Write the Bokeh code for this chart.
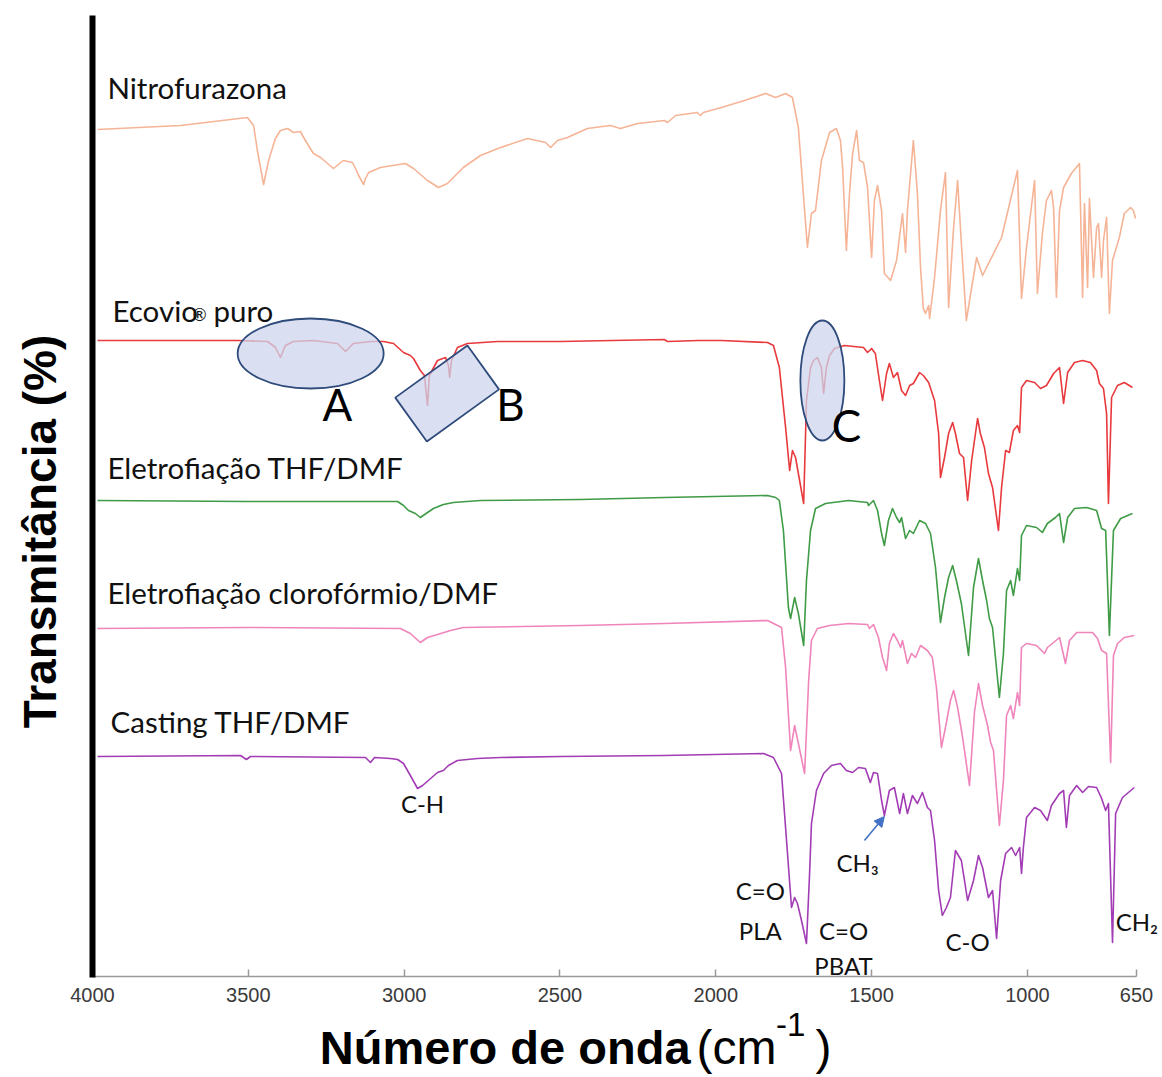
import math
from bokeh.plotting import figure
from bokeh.models import Range1d, FixedTicker, Label, Arrow, NormalHead
from bokeh.embed import file_html
from bokeh.resources import INLINE

# ---------------- data (wavenumber cm-1, transmittance a.u., spectra stacked) -------------
wn_nitro = [3984, 3718, 3503, 3483, 3471, 3451, 3435, 3413, 3397, 3374, 3355, 3333, 3317, 3291, 3268,
            3227, 3195, 3166, 3153, 3146, 3130, 3124, 3114, 3076, 3037, 2996, 2970, 2925, 2890, 2861,
            2810, 2755, 2691, 2604, 2546, 2530, 2508, 2476, 2412, 2338, 2306, 2251, 2165, 2155, 2129,
            2060, 2049, 2040, 1982, 1908, 1840, 1808, 1776, 1754, 1735, 1715, 1706, 1693, 1680, 1661,
            1635, 1613, 1600, 1593, 1581, 1571, 1561, 1548, 1539, 1526, 1513, 1500, 1491, 1481, 1468,
            1459, 1439, 1420, 1401, 1391, 1385, 1366, 1353, 1343, 1334, 1327, 1317, 1314, 1298, 1279,
            1263, 1253, 1237, 1224, 1212, 1196, 1179, 1163, 1144, 1083, 1032, 1019, 1003, 977, 968,
            952, 939, 923, 916, 907, 897, 884, 859, 833, 823, 817, 807, 801, 788, 778,
            772, 762, 756, 746, 737, 727, 705, 689, 669, 660, 653]
t_nitro = [871, 875, 883, 875, 850, 816, 840, 862, 870, 872, 868, 869, 860, 847, 843,
           832, 840, 838, 830, 825, 816, 822, 828, 833, 835, 837, 832, 820, 813, 817,
           833, 845, 853, 862, 858, 853, 860, 863, 872, 875, 872, 877, 880, 878, 885,
           888, 885, 888, 893, 900, 907, 903, 907, 903, 873, 790, 753, 787, 790, 840,
           868, 872, 860, 833, 750, 807, 847, 870, 840, 838, 813, 743, 800, 815, 790,
           727, 720, 740, 787, 748, 790, 860, 807, 733, 692, 687, 695, 682, 723, 790,
           828, 693, 773, 820, 757, 680, 713, 743, 725, 763, 830, 702, 753, 820, 707,
           767, 800, 810, 793, 703, 790, 813, 827, 837, 703, 797, 713, 802, 723, 773,
           777, 723, 760, 783, 687, 740, 763, 787, 793, 790, 782]

wn_ecovio = [3984, 3535, 3438, 3413, 3397, 3381, 3355, 3291, 3214, 3188, 3163, 3108, 3066, 3034, 3002,
             2980, 2970, 2948, 2935, 2925, 2919, 2893, 2867, 2858, 2854, 2848, 2829, 2797, 2700, 2498,
             2165, 2155, 2055, 1982, 1834, 1815, 1796, 1776, 1763, 1754, 1744, 1735, 1718, 1709, 1696,
             1686, 1674, 1661, 1654, 1645, 1635, 1619, 1587, 1526, 1513, 1500, 1488, 1475, 1465, 1452,
             1443, 1430, 1417, 1404, 1391, 1378, 1366, 1346, 1334, 1317, 1298, 1285, 1279, 1266, 1253,
             1240, 1231, 1218, 1205, 1192, 1179, 1160, 1151, 1138, 1125, 1112, 1093, 1083, 1070, 1058,
             1045, 1032, 1025, 1019, 1003, 977, 958, 939, 916, 897, 884, 871, 849, 823, 798,
             778, 769, 756, 746, 740, 730, 711, 689, 663]
t_ecovio = [660, 660, 659, 653, 643, 655, 659, 660, 657, 649, 657, 659, 659, 657, 648,
            645, 642, 630, 625, 595, 625, 640, 643, 635, 623, 640, 653, 657, 659, 659,
            661, 659, 660, 660, 658, 655, 633, 573, 530, 550, 543, 527, 497, 600, 633,
            640, 643, 633, 607, 633, 645, 652, 655, 653, 648, 652, 647, 620, 600, 627,
            637, 623, 628, 610, 605, 615, 617, 628, 625, 618, 600, 567, 523, 543, 567,
            578, 567, 547, 543, 500, 540, 582, 567, 553, 527, 513, 470, 513, 550, 548,
            570, 575, 568, 613, 620, 618, 612, 615, 627, 633, 597, 628, 638, 640, 638,
            630, 617, 612, 587, 497, 603, 615, 618, 613]

wn_thf = [3984, 3503, 3076, 3021, 3002, 2986, 2964, 2948, 2925, 2906, 2890, 2874, 2842, 2755, 2434,
          2165, 1834, 1808, 1796, 1783, 1767, 1760, 1747, 1735, 1718, 1709, 1696, 1680, 1648, 1574,
          1513, 1510, 1494, 1481, 1468, 1459, 1446, 1433, 1420, 1410, 1404, 1391, 1378, 1366, 1346,
          1327, 1311, 1295, 1279, 1266, 1253, 1240, 1228, 1212, 1189, 1173, 1157, 1144, 1131, 1122,
          1112, 1090, 1077, 1067, 1054, 1045, 1032, 1025, 1019, 1003, 971, 952, 936, 910, 897,
          884, 871, 849, 810, 778, 762, 749, 737, 724, 701, 663]
t_thf = [500, 499, 499, 499, 495, 490, 487, 483, 488, 492, 494, 496, 498, 500, 501,
         503, 505, 503, 500, 470, 393, 382, 403, 387, 355, 420, 470, 492, 497, 500,
         498, 495, 500, 490, 467, 455, 480, 492, 483, 478, 483, 462, 470, 467, 480,
         477, 467, 433, 378, 403, 423, 435, 420, 397, 345, 413, 442, 420, 400, 382,
         373, 303, 347, 410, 420, 405, 432, 420, 465, 475, 473, 468, 477, 483, 487,
         458, 483, 492, 493, 490, 472, 470, 365, 470, 482, 487]

wn_cloro = [3984, 3503, 3012, 2980, 2948, 2925, 2893, 2851, 2810, 2434, 2165, 1834, 1789, 1776, 1760,
            1747, 1735, 1715, 1702, 1693, 1674, 1635, 1574, 1513, 1507, 1494, 1478, 1465, 1452, 1443,
            1430, 1417, 1407, 1401, 1385, 1372, 1359, 1343, 1321, 1305, 1292, 1276, 1263, 1247, 1237,
            1224, 1208, 1186, 1170, 1157, 1144, 1128, 1118, 1109, 1090, 1077, 1067, 1054, 1045, 1032,
            1025, 1019, 1003, 971, 945, 936, 897, 878, 865, 842, 791, 775, 762, 746, 733,
            724, 711, 689, 657]
t_cloro = [372, 373, 372, 367, 358, 363, 366, 370, 373, 375, 377, 380, 373, 333, 250,
           275, 257, 227, 320, 360, 372, 375, 377, 376, 372, 376, 363, 343, 330, 357,
           367, 360, 353, 360, 337, 347, 343, 355, 350, 343, 313, 253, 273, 300, 310,
           293, 263, 215, 288, 317, 295, 275, 258, 250, 175, 220, 285, 295, 282, 308,
           295, 353, 357, 355, 347, 353, 363, 337, 360, 368, 368, 362, 350, 347, 238,
           345, 357, 363, 365]

wn_casting = [3984, 3525, 3506, 3493, 3124, 3108, 3095, 3044, 3021, 3002, 2980, 2957, 2941, 2915, 2893,
              2874, 2858, 2829, 2765, 2691, 2498, 2165, 1847, 1815, 1789, 1773, 1757, 1747, 1738, 1725,
              1709, 1699, 1693, 1677, 1654, 1629, 1600, 1581, 1561, 1542, 1520, 1504, 1494, 1481, 1468,
              1459, 1443, 1427, 1410, 1398, 1385, 1369, 1353, 1337, 1321, 1311, 1298, 1285, 1273, 1260,
              1247, 1231, 1212, 1192, 1173, 1157, 1144, 1125, 1112, 1099, 1086, 1070, 1051, 1038, 1025,
              1019, 1013, 1003, 977, 958, 936, 923, 897, 884, 875, 865, 842, 823, 804, 778,
              762, 749, 740, 727, 717, 695, 657]
t_casting = [244, 245, 241, 244, 243, 238, 243, 242, 241, 237, 225, 212, 215, 222, 228,
             230, 235, 240, 242, 243, 244, 245, 247, 243, 227, 160, 93, 103, 97, 80,
             57, 127, 177, 210, 227, 235, 237, 230, 228, 233, 232, 218, 228, 227, 200,
             185, 210, 213, 187, 207, 187, 205, 197, 208, 193, 190, 160, 110, 85, 93,
             103, 150, 140, 100, 120, 145, 133, 103, 110, 62, 120, 147, 153, 145, 153,
             127, 153, 183, 193, 190, 180, 195, 207, 210, 173, 205, 215, 208, 214, 213,
             202, 190, 197, 58, 187, 203, 213]

series_names = ["Nitrofurazona", "Ecovio", "Eletrofiação THF/DMF",
                "Eletrofiação clorofórmio/DMF", "Casting THF/DMF"]
series_wn = [wn_nitro, wn_ecovio, wn_thf, wn_cloro, wn_casting]
series_t = [t_nitro, t_ecovio, t_thf, t_cloro, t_casting]
series_colors = ["#f6b497", "#e8393c", "#3f9b45", "#ef85bb", "#a23cb4"]
name_pos = [(3952, 913), (3936, 690), (3952, 533), (3952, 408), (3942, 279)]

x_ticks = [4000, 3500, 3000, 2500, 2000, 1500, 1000, 650]

band_labels = ["C-H", "C=O", "PLA", "C=O", "PBAT", "C-O"]
band_pos = [(2941, 197), (1857, 110), (1857, 70), (1590, 70), (1590, 35), (1192, 59)]

# ---------------- figure (frame = whole canvas, axes at fixed locations) ----------------
p = figure(width=1162, height=1077, x_range=Range1d(4295.2, 566.6), y_range=Range1d(-77, 1000),
           output_backend="svg", toolbar_location=None,
           min_border_left=0, min_border_right=0, min_border_top=0, min_border_bottom=0)
p.outline_line_color = None
p.xgrid.visible = False
p.ygrid.visible = False
p.background_fill_color = "white"
p.border_fill_color = "white"

ax = p.xaxis[0]
ax.fixed_location = 24
ax.bounds = (650, 4000)
ax.ticker = FixedTicker(ticks=x_ticks)
ax.major_label_text_font = "Liberation Sans"
ax.major_label_text_font_size = "20px"
ax.major_label_text_color = "#3a3a3a"
ax.axis_line_color = "#9a9a9a"
ax.axis_line_width = 1.5
ax.major_tick_line_color = "#9a9a9a"
ax.major_tick_line_width = 1.5
ax.major_tick_in = 7
ax.major_tick_out = 0
ax.minor_tick_line_color = None
ax.major_label_standoff = 11

ay = p.yaxis[0]
ay.fixed_location = 4000
ay.bounds = (23, 985)
ay.ticker = FixedTicker(ticks=[])
ay.axis_line_color = "black"
ay.axis_line_width = 6
ay.major_tick_line_color = None
ay.minor_tick_line_color = None
ay.major_label_text_font_size = "0px"

for wn, t, c in zip(series_wn, series_t, series_colors):
    p.line(wn, t, line_color=c, line_width=1.6, line_join="round")

# highlight shapes A, B, C
p.ellipse(x=[3300], y=[647], width=[146], height=[70], width_units="screen", height_units="screen",
          fill_color="#cdd6ec", fill_alpha=0.75, line_color="#2f4b7c", line_width=1.8)
p.rect(x=[2862], y=[607], width=[89], height=[54], width_units="screen", height_units="screen",
       angle=0.625, fill_color="#cdd6ec", fill_alpha=0.75, line_color="#2f4b7c", line_width=1.8)
p.ellipse(x=[1658], y=[620], width=[44], height=[120], width_units="screen", height_units="screen",
          fill_color="#cdd6ec", fill_alpha=0.75, line_color="#2f4b7c", line_width=1.8)

for txt, (x, y) in zip(["A", "B", "C"], [(3214, 597), (2659, 597), (1581, 576)]):
    p.add_layout(Label(x=x, y=y, text=txt, text_font="Lato", text_font_size="44px",
                       text_color="black", text_align="center", text_baseline="middle"))

for name, (x, y) in zip(series_names, name_pos):
    p.add_layout(Label(x=x, y=y, text=name, text_font="Lato", text_font_size="29.5px",
                       text_color="#111111", text_align="left", text_baseline="middle"))
p.add_layout(Label(x=3679, y=686, text="®", text_font="Lato", text_font_size="17px",
                   text_color="#111111", text_align="left", text_baseline="middle"))
p.add_layout(Label(x=3612, y=690, text="puro", text_font="Lato", text_font_size="29.5px",
                   text_color="#111111", text_align="left", text_baseline="middle"))

for txt, (x, y) in zip(band_labels, band_pos):
    p.add_layout(Label(x=x, y=y, text=txt, text_font="Lato", text_font_size="24px",
                       text_color="#111111", text_align="center", text_baseline="middle"))
p.add_layout(Label(x=1613, y=138, text="CH₃", text_font="Lato", text_font_size="24px",
                   text_color="#111111", text_align="left", text_baseline="middle"))
p.add_layout(Label(x=717, y=79, text="CH₂", text_font="Lato", text_font_size="24px",
                   text_color="#111111", text_align="left", text_baseline="middle"))

p.add_layout(Arrow(x_start=1523, y_start=160, x_end=1459, y_end=184, line_color="#4472c4",
                   line_width=1.6, end=NormalHead(size=10, fill_color="#4472c4", line_color="#4472c4")))

# axis titles
p.add_layout(Label(x=4167, y=469, text="Transmitância (%)", angle=math.pi / 2,
                   text_font="Liberation Sans", text_font_style="bold", text_font_size="46px",
                   text_color="black", text_align="center", text_baseline="middle"))
p.add_layout(Label(x=2081, y=-47, text="Número de onda", text_font="Liberation Sans",
                   text_font_style="bold", text_font_size="47px", text_color="black",
                   text_align="right", text_baseline="middle"))
p.add_layout(Label(x=2062, y=-47, text="(cm", text_font="Liberation Sans",
                   text_font_size="48px", text_color="black",
                   text_align="left", text_baseline="middle"))
p.add_layout(Label(x=1807, y=-24, text="-1", text_font="Liberation Sans",
                   text_font_size="33px", text_color="black",
                   text_align="left", text_baseline="middle"))
p.add_layout(Label(x=1680, y=-47, text=")", text_font="Liberation Sans",
                   text_font_size="48px", text_color="black",
                   text_align="left", text_baseline="middle"))

open("out.html", "w").write(file_html(p, INLINE))
